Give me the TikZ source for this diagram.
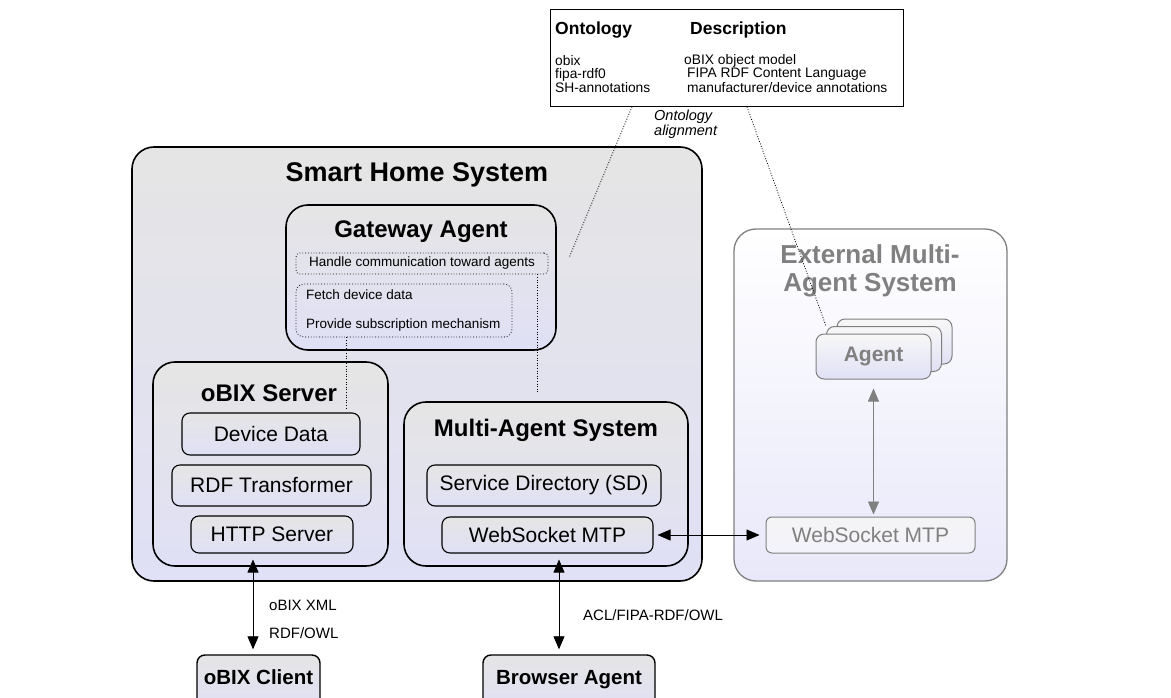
\documentclass[tikz,border=0pt]{standalone}
\usepackage{fontspec}
\setmainfont{Liberation Sans}
\usetikzlibrary{arrows.meta}
\definecolor{shgray}{RGB}{229,229,229}
\definecolor{shlav}{RGB}{224,224,246}
\definecolor{extgray}{RGB}{128,128,128}
\definecolor{extlav}{RGB}{232,232,250}

\begin{document}
\begin{tikzpicture}[x=1pt,y=1pt,yscale=-1,
    sysbox/.style={draw=black,line width=1.6pt,rounded corners=22pt,top color=shgray,bottom color=shlav,inner sep=0pt},
    partbox/.style={draw=black,line width=1.1pt,rounded corners=8pt,top color=shgray,bottom color=shlav,inner sep=0pt,font=\fontsize{21}{24}\selectfont},
    taskbox/.style={draw=black,dotted,line width=0.8pt,rounded corners=4pt,inner sep=0pt,font=\fontsize{13.5}{15}\selectfont},
    tasktext/.style={inner sep=0pt,font=\fontsize{13.5}{15}\selectfont},
    boxtitle/.style={inner sep=0pt,font=\bfseries\fontsize{24}{26}\selectfont},
    extbox/.style={draw=extgray,line width=1.3pt,rounded corners=22pt,top color=white,bottom color=extlav,inner sep=0pt},
    agentbox/.style={draw=extgray,line width=1pt,rounded corners=8pt,top color=white!70!shgray,bottom color=shlav,inner sep=0pt,minimum width=115pt,minimum height=45pt,text=extgray,font=\bfseries\fontsize{21}{24}\selectfont},
    endbox/.style={draw=black,line width=1.4pt,rounded corners=8pt,top color=shgray,bottom color=shlav,inner sep=0pt,anchor=base,text height=29pt,text depth=27pt,font=\bfseries\fontsize{20.5}{23}\selectfont},
    ontext/.style={inner sep=0pt,anchor=west,font=\fontsize{13.8}{15}\selectfont},
    onthead/.style={inner sep=0pt,anchor=west,font=\bfseries\fontsize{17.5}{19}\selectfont},
    lbl/.style={inner sep=0pt,anchor=west,font=\fontsize{15}{17}\selectfont},
    linkline/.style={line width=0.8pt,dash pattern=on 0.9pt off 1.7pt},
    dblarrow/.style={{Triangle[length=13pt,width=11pt]}-{Triangle[length=13pt,width=11pt]},line width=0.8pt},
    grayarrow/.style={dblarrow,draw=extgray,fill=extgray}]
    \fill[white] (0,0) rectangle (1171,698);
    \useasboundingbox (0,0) rectangle (1171,698);

    \node[draw=black,line width=0.8pt,fill=white,minimum width=353pt,minimum height=97pt,anchor=north west] (ont) at (550,9) {};
    \node[onthead] (onth) at (555,30) {Ontology};
    \node[onthead] (desch) at (690,30) {Description};
    \node[ontext] (obix) at (555,61) {obix};
    \node[ontext] (fipa) at (555,74.5) {fipa-rdf0};
    \node[ontext] (shann) at (555,88) {SH-annotations};
    \node[ontext] (obixd) at (684,61) {oBIX object model};
    \node[ontext] (fipad) at (687,74.5) {FIPA RDF Content Language};
    \node[ontext] (shannd) at (687,88) {manufacturer/device annotations};
    \node[inner sep=0pt,anchor=west,align=left,font=\itshape\fontsize{14.5}{15}\selectfont] (align) at (654,124.5) {Ontology\\alignment};

    \node[sysbox,minimum width=570pt,minimum height=434pt] (shs) at (417,364) {};
    \node[boxtitle,font=\bfseries\fontsize{27}{29}\selectfont] (shst) at (417,175) {Smart Home System};

    \node[sysbox,minimum width=270pt,minimum height=145pt] (gw) at (421,277.5) {};
    \node[boxtitle] (gwt) at (421,232) {Gateway Agent};
    \node[taskbox,minimum width=252pt,minimum height=21pt] (handle) at (422,263.5) {Handle communication toward agents};
    \node[taskbox,rounded corners=8pt,minimum width=216pt,minimum height=53pt] (fetch) at (404,310.5) {};
    \node[tasktext,anchor=west] (fetcht) at (306,295) {Fetch device data};
    \node[tasktext,anchor=west] (subt) at (306,325) {Provide subscription mechanism};

    \node[sysbox,minimum width=235pt,minimum height=204pt] (obs) at (270.5,464) {};
    \node[boxtitle] (obst) at (269,393) {oBIX Server};
    \node[partbox,minimum width=178pt,minimum height=42pt] (dd) at (271,434) {Device Data};
    \node[partbox,minimum width=199pt,minimum height=41pt] (rdf) at (271.5,485.5) {RDF Transformer};
    \node[partbox,minimum width=162pt,minimum height=37pt] (http) at (272,534.5) {HTTP Server};

    \node[sysbox,minimum width=284pt,minimum height=164pt] (mas) at (546,484) {};
    \node[boxtitle] (mast) at (546,430) {Multi-Agent System};
    \node[partbox,minimum width=234pt,minimum height=41pt] (sd) at (544,485.5) {Service Directory (SD)};
    \node[partbox,minimum width=211pt,minimum height=36pt] (ws) at (547.5,535) {WebSocket MTP};

    \node[extbox,minimum width=273pt,minimum height=352pt] (ext) at (870.5,405) {};
    \node[inner sep=0pt,align=center,text=extgray,font=\bfseries\fontsize{26}{28}\selectfont] (extt) at (870,271) {External Multi-\\Agent System};
    \node[agentbox] (ag3) at (894.5,341.5) {};
    \node[agentbox] (ag2) at (884,349) {};
    \node[agentbox] (ag1) at (873.5,356.5) {Agent};
    \node[partbox,draw=extgray,line width=1pt,rounded corners=6pt,top color=white!60!shgray,bottom color=white!60!shlav,text=extgray,minimum width=209pt,minimum height=36pt] (ews) at (870.5,535) {WebSocket MTP};

    \node[endbox,minimum width=123pt] (client) at (258.5,684) {oBIX Client};
    \node[endbox,minimum width=172pt] (browser) at (569,684) {Browser Agent};

    \coordinate (gwal) at (569,258);
    \coordinate (obsend) at (346,408);
    \coordinate (masend) at (537,393);
    \coordinate (httpout) at ([xshift=-19pt]http.south);
    \coordinate (wsout) at ([xshift=11.5pt]ws.south);

    \draw[linkline] ([xshift=82pt]ont.south west) -- (gwal);
    \draw[linkline] ([xshift=197pt]ont.south west) -- (ag2.north west);
    \draw[linkline] (obsend |- fetch.south) -- (obsend);
    \draw[linkline] (masend |- handle.south) -- (masend);

    \draw[dblarrow,shorten <=6pt,shorten >=5pt] (httpout) -- (httpout |- client.north);
    \draw[dblarrow,shorten <=6pt,shorten >=5pt] (wsout) -- (wsout |- browser.north);
    \draw[dblarrow,shorten <=4pt,shorten >=6pt] (ws.east) -- (ews.west);
    \draw[grayarrow,shorten <=9pt,shorten >=2pt] (ag1.south) -- (ag1.south |- ews.north);

    \node[lbl] (xml) at (269,605) {oBIX XML};
    \node[lbl] (owl) at (269,633) {RDF/OWL};
    \node[lbl] (acl) at (583,615) {ACL/FIPA-RDF/OWL};
\end{tikzpicture}
\end{document}
